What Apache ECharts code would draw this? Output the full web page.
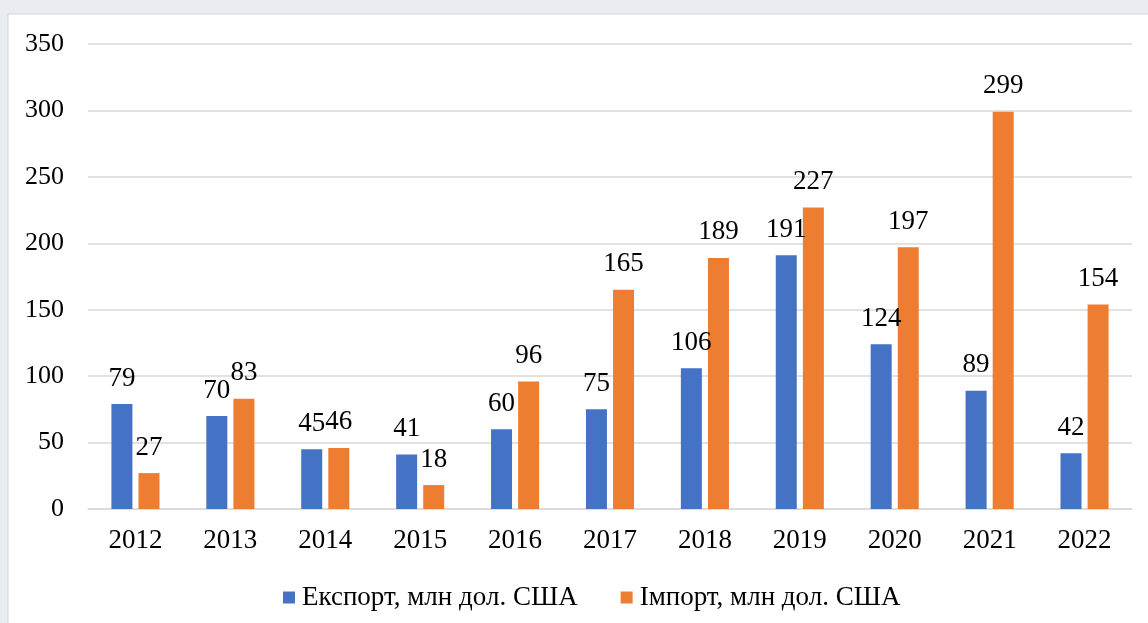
<!DOCTYPE html>
<html><head><meta charset="utf-8">
<script src="https://cdn.jsdelivr.net/npm/echarts@6/dist/echarts.min.js"></script>
<style>html,body{margin:0;padding:0;background:#e9ecf1;}#c{width:1148px;height:623px;}</style>
</head><body><div id="c"></div>
<script>
const years = ['2012','2013','2014','2015','2016','2017','2018','2019','2020','2021','2022'];
const exportVals = [79,70,45,41,60,75,106,191,124,89,42];
const importVals = [27,83,46,18,96,165,189,227,197,299,154];
const seriesNames = ['Експорт, млн дол. США','Імпорт, млн дол. США'];
const yTicks = {min:0,max:350,interval:50};
const font = '"Liberation Serif", "Times New Roman", serif';
const chart = echarts.init(document.getElementById('c'));
const lbl = {show:true,position:'top',distance:12,color:'#000',fontFamily:font,fontSize:27};
chart.setOption({
  backgroundColor:'#e9ecf1',
  graphic:[{type:'rect',z:-10,shape:{x:8,y:14,width:1145,height:615},style:{fill:'#ffffff',stroke:'#d4d4d4',lineWidth:1}}],
  grid:{left:88,right:16,top:44,bottom:114},
  legend:{bottom:7,left:278,itemWidth:12,itemHeight:12,itemGap:43,icon:'rect',
    textStyle:{fontFamily:font,fontSize:27,color:'#000',padding:[0,0,0,2]},data:seriesNames},
  xAxis:{type:'category',data:years,axisTick:{show:false},
    axisLine:{lineStyle:{color:'#d9d9d9',width:1.5}},
    axisLabel:{margin:18,fontFamily:font,fontSize:27,color:'#000'}},
  yAxis:{type:'value',min:yTicks.min,max:yTicks.max,interval:yTicks.interval,
    splitLine:{lineStyle:{color:'#d9d9d9',width:1.5}},
    axisLabel:{margin:24,fontFamily:font,fontSize:26,color:'#000'}},
  series:[
    {name:seriesNames[0],type:'bar',data:exportVals,barWidth:21,barGap:'29%',itemStyle:{color:'#4472C4'},label:lbl},
    {name:seriesNames[1],type:'bar',data:importVals,barWidth:21,itemStyle:{color:'#ED7D31'},label:lbl}
  ]
});
</script></body></html>
